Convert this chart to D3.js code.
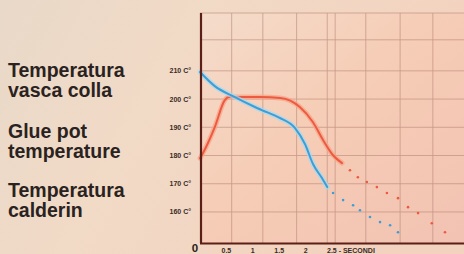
<!DOCTYPE html>
<html><head><meta charset="utf-8">
<script src="https://cdn.jsdelivr.net/npm/d3@7"></script>
<style>html,body{margin:0;padding:0;background:#f0dcc8;overflow:hidden}</style>
</head><body><svg id="c" width="464" height="254"></svg>
<script>
// ---- data (time in seconds, temperature in °C) ----
const yTicks = [160, 170, 180, 190, 200, 210];
const yTickLabels = ["160 C°", "170 C°", "180 C°", "190 C°", "200 C°", "210 C°"];
const xTicks = [0.5, 1, 1.5, 2, 2.5];
const xTickLabels = ["0.5", "1", "1.5", "2", "2.5 - SECONDI"];
const legendLines = [["Temperatura", "vasca colla"], ["Glue pot", "temperature"], ["Temperatura", "calderin"]];

const blueSolidT = [0, 0.28, 0.66, 1.04, 1.17, 1.50, 1.80, 1.99, 2.14, 2.31, 2.41];
const blueSolidV = [209.6, 204.6, 200.7, 197.2, 196.1, 193.4, 189.7, 184, 177, 172, 168.8];
const blueDotT = [2.52, 2.71, 2.90, 3.03, 3.22, 3.41, 3.60, 3.75];
const blueDotV = [166.7, 164.2, 162.4, 160.6, 158.2, 156.4, 155.3, 152.8];

const redSolidT = [0, 0.06, 0.28, 0.47, 0.55, 1.14, 1.52, 1.89, 2.14, 2.33, 2.52, 2.69];
const redSolidV = [179, 181, 190.1, 199.6, 200.7, 200.7, 200.4, 197.2, 191.8, 185.5, 180.1, 177.3];
const redDotT = [2.84, 2.99, 3.16, 3.35, 3.54, 3.75, 3.94, 4.13, 4.39, 4.64];
const redDotV = [174.8, 172.3, 170.6, 168.8, 166.7, 164.9, 161.7, 159.6, 156, 152.8];

// background graph-paper grid (in data units)
const gridT = [0.6, 1.19, 1.83, 2.41, 2.56, 3.14, 3.79, 4.41];
const gridV = [160, 170, 180, 190, 200, 210, 221];

// ---- drawing ----
const svg = d3.select("#c");
const x = d3.scaleLinear().domain([0, 5]).range([200, 464]);
const y = d3.scaleLinear().domain([149, 230.5]).range([243, 13]);

const defs = svg.append("defs");
const bg = defs.append("linearGradient").attr("id", "bg").attr("x1", 0).attr("y1", 0).attr("x2", 1).attr("y2", 0.3);
bg.append("stop").attr("offset", 0).attr("stop-color", "#e9d9c9");
bg.append("stop").attr("offset", 0.4).attr("stop-color", "#f1dac6");
bg.append("stop").attr("offset", 1).attr("stop-color", "#f3d2bf");
svg.append("rect").attr("width", 464).attr("height", 254).attr("fill", "url(#bg)");

const pg = defs.append("linearGradient").attr("id", "pg").attr("x1", 0).attr("y1", 0).attr("x2", 1).attr("y2", 1);
pg.append("stop").attr("offset", 0).attr("stop-color", "#f4dccb");
pg.append("stop").attr("offset", 0.45).attr("stop-color", "#f6cdb6");
pg.append("stop").attr("offset", 1).attr("stop-color", "#f2c2b2");
svg.append("rect").attr("x", x(0)).attr("y", y(230.5)).attr("width", x(5) - x(0)).attr("height", y(149) - y(230.5)).attr("fill", "url(#pg)");

const grid = svg.append("g").attr("stroke", "#b98877").attr("stroke-width", 0.8).attr("opacity", 0.75);
grid.selectAll("line.v").data(gridT).join("line").attr("class", "v")
  .attr("x1", d => x(d)).attr("x2", d => x(d)).attr("y1", y(230.5)).attr("y2", y(149));
grid.selectAll("line.h").data(gridV).join("line").attr("class", "h")
  .attr("x1", x(0)).attr("x2", x(5)).attr("y1", d => y(d)).attr("y2", d => y(d));
grid.append("line").attr("x1", x(0)).attr("x2", x(5)).attr("y1", y(230.5)).attr("y2", y(230.5));

const line = d3.line().x(d => x(d[0])).y(d => y(d[1])).curve(d3.curveMonotoneX);
const zip = (a, b) => a.map((v, i) => [v, b[i]]);

function series(tS, vS, tD, vD, halo, col) {
  const pts = zip(tS, vS);
  svg.append("path").attr("d", line(pts)).attr("fill", "none").attr("stroke", halo).attr("stroke-width", 5).attr("stroke-linecap", "round").attr("opacity", 0.75);
  svg.append("path").attr("d", line(pts)).attr("fill", "none").attr("stroke", col).attr("stroke-width", 2).attr("stroke-linecap", "round");
  svg.append("g").selectAll("circle").data(zip(tD, vD)).join("circle")
    .attr("cx", d => x(d[0])).attr("cy", d => y(d[1])).attr("r", 1.3).attr("fill", col);
}
series(redSolidT, redSolidV, redDotT, redDotV, "#f6a58a", "#ee5a40");
series(blueSolidT, blueSolidV, blueDotT, blueDotV, "#a9d8ee", "#3a9fd8");

// axes
svg.append("line").attr("x1", x(0) + 1).attr("x2", x(0) + 1).attr("y1", y(230.5)).attr("y2", y(149)).attr("stroke", "#5b1f17").attr("stroke-width", 2.2);
svg.append("line").attr("x1", x(0)).attr("x2", x(5)).attr("y1", y(149) + 0.5).attr("y2", y(149) + 0.5).attr("stroke", "#5b1f17").attr("stroke-width", 1.8);

svg.append("g").selectAll("text").data(yTicks).join("text")
  .attr("x", 191).attr("y", d => y(d) + 2.5).attr("text-anchor", "end")
  .attr("font-family", "Liberation Sans, Arial, sans-serif").attr("font-size", 7).attr("font-weight", "bold").attr("fill", "#3a2a26")
  .text((d, i) => yTickLabels[i]);

svg.append("g").selectAll("text").data(xTicks).join("text")
  .attr("x", d => x(d)).attr("y", 252.5).attr("text-anchor", (d, i) => i === xTicks.length - 1 ? "start" : "middle")
  .attr("dx", (d, i) => i === xTicks.length - 1 ? -5 : 0)
  .attr("font-family", "Liberation Sans, Arial, sans-serif").attr("font-size", 7).attr("font-weight", "bold").attr("fill", "#3a2a26")
  .text((d, i) => xTickLabels[i]);

svg.append("text").attr("x", 195).attr("y", 251.5).attr("text-anchor", "middle")
  .attr("font-family", "Liberation Sans, Arial, sans-serif").attr("font-size", 11.5).attr("font-weight", "bold").attr("fill", "#2a1d1a").text("0");

// left titles
const lg = svg.append("g").attr("font-family", "Liberation Sans, Arial, sans-serif").attr("font-weight", "bold").attr("font-size", 19.5).attr("fill", "#2a2220");
const baseY = [77, 138, 197];
legendLines.forEach((pair, k) => {
  pair.forEach((s, j) => {
    lg.append("text").attr("x", 8).attr("y", baseY[k] + j * 20).text(s);
  });
});
</script></body></html>
